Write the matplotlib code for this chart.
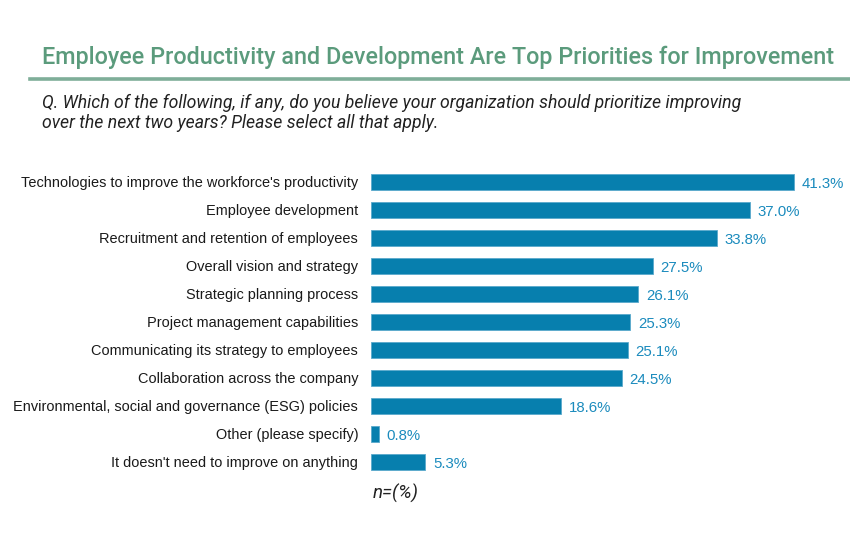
import matplotlib
matplotlib.use("Agg")
import matplotlib.pyplot as plt
from matplotlib.lines import Line2D

categories = [
    "Technologies to improve the workforce's productivity",
    "Employee development",
    "Recruitment and retention of employees",
    "Overall vision and strategy",
    "Strategic planning process",
    "Project management capabilities",
    "Communicating its strategy to employees",
    "Collaboration across the company",
    "Environmental, social and governance (ESG) policies",
    "Other (please specify)",
    "It doesn't need to improve on anything",
]
values = [41.3, 37.0, 33.8, 27.5, 26.1, 25.3, 25.1, 24.5, 18.6, 0.8, 5.3]

title = "Employee Productivity and Development Are Top Priorities for Improvement"
question = ("Q. Which of the following, if any, do you believe your organization should prioritize improving\n"
            "over the next two years? Please select all that apply.")

W, H = 850, 537
fig = plt.figure(figsize=(W / 100, H / 100), dpi=100)

# axes placed in pixel terms
left_px, top_px, row_px = 371, 168, 28
n = len(categories)
ax = fig.add_axes([left_px / W, 1 - (top_px + n * row_px) / H, (W - left_px) / W, n * row_px / H])
ax.barh(range(n), values, height=0.57, color="#077fae", edgecolor="#5aa9cc", linewidth=0.6)
ax.set_ylim(n - 0.5, -0.5)
ax.set_xlim(0, (W - left_px) / 10.24)
ax.axis("off")

for i, (cat, v) in enumerate(zip(categories, values)):
    ax.text(v + 0.75, i + 0.06, f"{v:.1f}%", va="center", ha="left", fontsize=10.8,
            color="#1b8bbd", family="Liberation Sans")
    ax.text(-1.25, i + 0.04, cat, va="center", ha="right", fontsize=10.45,
            color="#1a1a1a", family="Liberation Sans")

fig.text(42 / W, 1 - 57 / H, title, fontsize=16.8, color="#5b9b7c", family="Roboto",
         weight="medium", va="center", ha="left")
fig.add_artist(Line2D([30 / W, 1], [1 - 79 / H] * 2, color="#7fae99", linewidth=2.6,
                      transform=fig.transFigure))
fig.text(42 / W, 1 - 113 / H, question, fontsize=12.7, color="#222222", family="Roboto",
         style="italic", va="center", ha="left", linespacing=1.2)
fig.text(373 / W, 1 - 493 / H, "n=(%)", fontsize=13.5, color="#222222", family="Roboto",
         style="italic", va="center", ha="left")

fig.savefig("out.png", dpi=100)
